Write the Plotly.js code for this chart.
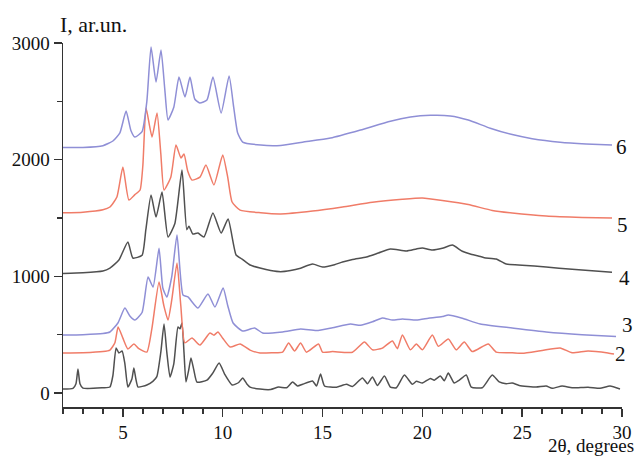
<!DOCTYPE html>
<html>
<head>
<meta charset="utf-8">
<script src="https://cdn.plot.ly/plotly-3.0.1.min.js"></script>
<style>html,body{margin:0;padding:0;background:#fff;}#chart{width:639px;height:457px;}</style>
</head>
<body>
<div id="chart"></div>
<script>
// Curve 1 (bottom, gray)
const x1 = [2.0, 2.5, 2.65, 2.75, 2.85, 3.0, 4.0, 4.35, 4.5, 4.66, 4.8, 4.96, 5.1, 5.25, 5.45, 5.55, 5.65, 5.76, 6.2, 6.5, 6.7, 6.9, 7.06, 7.2, 7.36, 7.55, 7.76, 7.86, 7.96, 8.06, 8.16, 8.3, 8.41, 8.55, 8.71, 9.21, 9.5, 9.82, 10.1, 10.47, 10.8, 11.0, 11.2, 11.37, 11.87, 12.4, 12.8, 13.2, 13.5, 13.75, 14.0, 14.5, 14.7, 14.9, 15.1, 15.7, 16.2, 16.5, 17.0, 17.25, 17.5, 17.75, 18.1, 18.4, 18.7, 19.1, 19.5, 19.7, 20.0, 20.4, 20.6, 20.9, 21.1, 21.3, 21.6, 21.85, 22.2, 22.45, 23.0, 23.5, 23.85, 24.2, 24.5, 24.85, 25.7, 26.2, 26.5, 27.0, 27.5, 28.3, 28.9, 29.4, 29.9];
const y1 = [34, 40, 80, 206, 80, 42, 45, 51, 150, 386, 343, 360, 250, 51, 120, 214, 120, 51, 69, 100, 140, 350, 591, 350, 137, 250, 566, 550, 600, 350, 94, 200, 300, 200, 94, 110, 170, 257, 160, 69, 90, 129, 80, 51, 34, 30, 51, 45, 94, 60, 75, 103, 60, 163, 60, 50, 75, 55, 129, 80, 137, 65, 146, 50, 45, 154, 75, 100, 85, 125, 110, 145, 105, 171, 85, 110, 154, 51, 45, 154, 95, 80, 85, 65, 51, 60, 40, 60, 45, 50, 40, 60, 34];
// Curve 2 (red, lower)
const x2 = [2.0, 3.0, 4.0, 4.35, 4.6, 4.76, 5.0, 5.25, 5.55, 5.8, 6.2, 6.45, 6.81, 7.05, 7.26, 7.45, 7.71, 7.9, 8.1, 8.46, 8.86, 9.36, 9.56, 9.76, 10.0, 10.37, 10.87, 11.37, 11.87, 12.5, 13.0, 13.3, 13.6, 13.9, 14.2, 14.8, 15.0, 15.5, 16.5, 17.1, 17.5, 18.0, 18.5, 18.75, 19.0, 19.4, 19.7, 20.0, 20.5, 20.8, 21.3, 21.7, 22.1, 22.5, 23.3, 23.7, 24.5, 25.0, 26.0, 26.9, 27.5, 28.3, 29.3, 29.6];
const y2 = [343, 345, 355, 368, 430, 566, 470, 377, 420, 380, 351, 550, 951, 750, 625, 800, 1114, 750, 430, 471, 411, 514, 495, 523, 470, 394, 420, 368, 343, 345, 350, 428, 360, 428, 350, 420, 350, 355, 350, 437, 370, 385, 446, 380, 497, 370, 420, 370, 497, 400, 463, 370, 437, 355, 420, 350, 345, 340, 365, 386, 345, 360, 343, 334];
// Curve 3 (blue, lower)
const x3 = [2.0, 3.0, 4.0, 4.35, 4.75, 5.1, 5.35, 5.6, 5.96, 6.26, 6.51, 6.81, 7.0, 7.2, 7.45, 7.71, 8.01, 8.26, 8.76, 9.26, 9.61, 10.02, 10.25, 10.52, 11.0, 11.6, 12.0, 13.0, 13.9, 14.7, 15.5, 16.4, 16.9, 17.5, 18.0, 18.5, 19.0, 19.7, 20.3, 21.0, 21.3, 22.0, 22.9, 24.5, 26.2, 28.0, 29.7];
const y3 = [497, 500, 510, 523, 600, 728, 660, 625, 690, 994, 908, 1240, 900, 823, 1000, 1354, 840, 823, 728, 849, 737, 900, 750, 600, 531, 557, 514, 523, 548, 535, 560, 591, 580, 610, 643, 625, 635, 625, 640, 655, 668, 640, 591, 557, 523, 500, 485];
// Curve 4 (gray, middle)
const x4 = [2.0, 3.0, 4.0, 4.35, 4.8, 5.25, 5.5, 5.96, 6.15, 6.41, 6.66, 6.96, 7.26, 7.6, 7.96, 8.2, 8.31, 8.5, 8.76, 9.06, 9.51, 9.92, 10.27, 10.67, 10.97, 11.37, 11.87, 12.4, 12.9, 13.4, 13.9, 14.5, 15.0, 15.6, 16.0, 16.5, 17.2, 17.8, 18.4, 19.2, 19.7, 20.0, 20.5, 21.0, 21.5, 22.0, 22.4, 22.8, 23.1, 23.7, 24.2, 25.0, 26.2, 27.5, 28.5, 29.5];
const y4 = [1025, 1030, 1045, 1071, 1140, 1294, 1157, 1180, 1400, 1697, 1508, 1723, 1337, 1450, 1911, 1400, 1430, 1363, 1371, 1337, 1543, 1371, 1491, 1183, 1148, 1097, 1071, 1050, 1040, 1050, 1070, 1105, 1080, 1100, 1123, 1145, 1166, 1200, 1234, 1217, 1235, 1243, 1225, 1240, 1268, 1215, 1191, 1175, 1160, 1148, 1105, 1095, 1080, 1060, 1048, 1035];
// Curve 5 (red, upper)
const x5 = [2.0, 3.0, 4.0, 4.35, 4.7, 5.0, 5.3, 5.6, 5.86, 6.0, 6.16, 6.46, 6.71, 6.9, 7.06, 7.4, 7.66, 7.91, 8.06, 8.25, 8.46, 8.86, 9.16, 9.56, 10.0, 10.25, 10.47, 10.87, 11.9, 12.9, 14.5, 16.0, 17.5, 19.0, 20.0, 21.0, 22.3, 23.5, 24.5, 26.2, 28.0, 29.5];
const y5 = [1545, 1550, 1570, 1594, 1680, 1937, 1654, 1700, 1740, 1950, 2442, 2194, 2400, 2050, 1740, 1850, 2125, 2014, 2048, 1900, 1825, 1850, 1954, 1783, 2040, 1850, 1637, 1568, 1545, 1535, 1560, 1595, 1635, 1660, 1671, 1650, 1615, 1565, 1543, 1517, 1505, 1500];
// Curve 6 (blue, top)
const x6 = [2.0, 3.0, 4.0, 4.5, 4.85, 5.16, 5.4, 5.6, 5.96, 6.2, 6.41, 6.66, 6.91, 7.1, 7.26, 7.55, 7.81, 8.11, 8.36, 8.6, 8.85, 9.21, 9.51, 9.92, 10.32, 10.55, 10.75, 11.0, 11.9, 12.9, 14.0, 15.4, 16.9, 18.4, 19.4, 20.4, 21.4, 22.3, 23.4, 24.5, 25.5, 26.9, 28.2, 29.5];
const y6 = [2105, 2105, 2120, 2160, 2230, 2417, 2250, 2194, 2240, 2500, 2965, 2665, 2940, 2600, 2340, 2450, 2708, 2537, 2708, 2520, 2485, 2511, 2708, 2400, 2717, 2450, 2228, 2151, 2125, 2122, 2150, 2185, 2254, 2330, 2365, 2380, 2375, 2340, 2270, 2215, 2180, 2150, 2135, 2125];

const curveNames = ['1', '2', '3', '4', '5', '6'];
const labelX = [30.05, 29.55, 29.9, 29.75, 29.65, 29.6];
const labelY = [10, 334, 583, 985, 1440, 2108];

const GRAY = '#505050', RED = '#f07c68', BLUE = '#8f8fd6';
const colors = [GRAY, RED, BLUE, GRAY, RED, BLUE];
const xs = [x1, x2, x3, x4, x5, x6];
const ys = [y1, y2, y3, y4, y5, y6];

const traces = xs.map((x, i) => ({
  x: x, y: ys[i], type: 'scatter', mode: 'lines', name: curveNames[i],
  line: {color: colors[i], width: 1.5, shape: 'spline', smoothing: 0.5},
  hoverinfo: 'skip'
}));

const serif = 'Liberation Serif, Times New Roman, serif';
const annotations = curveNames.map((n, i) => ({
  x: labelX[i], y: labelY[i], xref: 'x', yref: 'y', text: n, showarrow: false,
  xanchor: 'left', yanchor: 'middle', font: {family: serif, size: 21, color: '#111'}
}));
annotations.push({x: -0.009, y: 1.052, xref: 'paper', yref: 'paper', text: 'I, ar.un.', showarrow: false,
  xanchor: 'left', yanchor: 'middle', font: {family: serif, size: 22, color: '#111'}});
annotations.push({x: 1.025, y: -0.107, xref: 'paper', yref: 'paper', text: '2θ, degrees', showarrow: false,
  xanchor: 'right', yanchor: 'middle', font: {family: serif, size: 19, color: '#111'}});

const layout = {
  width: 639, height: 457,
  margin: {l: 63, r: 17, t: 43, b: 50},
  paper_bgcolor: '#fff', plot_bgcolor: '#fff',
  showlegend: false,
  xaxis: {
    range: [2, 30], tickmode: 'linear', tick0: 0, dtick: 5,
    showgrid: false, zeroline: false, showline: true, linecolor: '#333', linewidth: 1.5,
    ticks: 'outside', ticklen: 8, tickwidth: 1.5, tickcolor: '#333',
    minor: {tickmode: 'linear', tick0: 0, dtick: 1, ticks: 'outside', ticklen: 5, tickwidth: 1.5, tickcolor: '#333', showgrid: false},
    tickfont: {family: serif, size: 19, color: '#111'}
  },
  yaxis: {
    range: [-120, 3000], tickmode: 'linear', tick0: 0, dtick: 1000,
    showgrid: false, zeroline: false, showline: true, linecolor: '#333', linewidth: 1.5,
    ticks: 'outside', ticklen: 8, tickwidth: 1.5, tickcolor: '#333',
    minor: {tickmode: 'linear', tick0: 0, dtick: 500, ticks: 'outside', ticklen: 5, tickwidth: 1.5, tickcolor: '#333', showgrid: false},
    tickfont: {family: serif, size: 19, color: '#111'}
  },
  annotations: annotations
};

Plotly.newPlot('chart', traces, layout, {staticPlot: true, displayModeBar: false});
</script>
</body>
</html>
